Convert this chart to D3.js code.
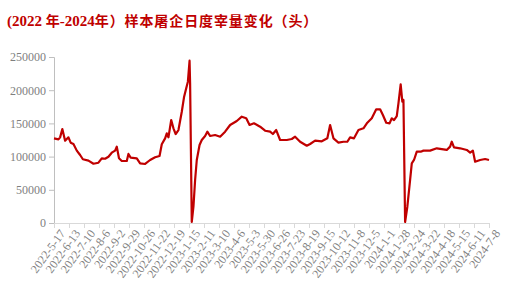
<!DOCTYPE html>
<html>
<head>
<meta charset="utf-8">
<script src="https://cdn.jsdelivr.net/npm/d3@7"></script>
<style>
  body { margin: 0; background: #fff; }
  svg { display: block; }
</style>
</head>
<body>
<div id="chart"></div>
<script>
// Data: days since 2022-5-17 and daily slaughter volume (head)
var days = [0, 8, 11, 15, 20, 26, 30, 35, 41, 47, 52, 62, 71, 80, 86, 92, 98, 104, 110, 113,
  117, 122, 131, 134, 138, 149, 155, 164, 173, 182, 190, 194, 200, 203, 206, 211, 215, 219, 224,
  230, 234, 238, 241, 244, 245, 248, 251, 254, 257, 262, 266, 272, 276, 281, 290, 299, 308, 317,
  329, 338, 346, 352, 360, 371, 380, 389, 394, 400, 407, 419, 428, 434, 443, 455, 461, 470, 482,
  492, 497, 503, 512, 521, 528, 533, 540, 548, 557, 564, 572, 580, 587, 592, 598, 604, 608, 612,
  617, 620, 624, 627, 629, 632, 636, 641, 644, 648, 653, 660, 665, 677, 689, 707, 713, 716, 720,
  731, 743, 749, 754, 758, 767, 776, 783];

var volume = [127500, 126000, 129000, 141500, 124000, 129000, 121000, 119000, 109000, 102400,
  96000, 94000, 89300, 90800, 97400, 96800, 99800, 105900, 109000, 115000,
  97400, 93400, 93400, 104000, 98400, 97400, 89900, 88900, 94900, 99000, 101000, 118500, 127500,
  135000, 129000, 155100, 142600, 134000, 140000,
  167600, 189300, 202900, 212800, 244400, 210400, 1500, 24500, 64800, 94900, 117500, 125000,
  131000, 137500, 131000, 132500, 130000, 137500, 147600,
  153600, 160100, 157700, 147600, 150100, 145000, 139000, 137500, 134000, 140000, 125000, 125000,
  126500, 130000, 122400, 116400, 119000, 124000, 123000,
  127500, 147600, 127500, 121000, 122400, 122400, 129000, 127500, 140000, 142600, 151000, 157700,
  171200, 171200, 162600, 151000, 150100, 157700, 155100,
  161100, 180300, 208900, 182700, 185200, 1500, 24500, 64800, 89900, 94900, 107400, 107400,
  109000, 109000, 112500, 110000, 115000, 122400, 114000,
  112500, 110000, 105900, 109000, 92300, 94900, 96400, 94900];

var tickLabels = ["2022-5-17", "2022-6-13", "2022-7-10", "2022-8-6", "2022-9-2", "2022-9-29",
  "2022-10-26", "2022-11-22", "2022-12-19", "2023-1-15", "2023-2-11", "2023-3-10", "2023-4-6",
  "2023-5-3", "2023-5-30", "2023-6-26", "2023-7-23", "2023-8-19", "2023-9-15", "2023-10-12",
  "2023-11-8", "2023-12-5", "2024-1-1", "2024-1-28", "2024-2-24", "2024-3-22", "2024-4-18",
  "2024-5-15", "2024-6-11", "2024-7-8"];
var tickStep = 27;
var yTicks = [0, 50000, 100000, 150000, 200000, 250000];

// Canvas
var svgWidth = 522;
var svgHeight = 295;
var margin = { top: 57, right: 33, bottom: 72, left: 54 };
var width = svgWidth - margin.left - margin.right;
var height = svgHeight - margin.top - margin.bottom;

var svg = d3.select("#chart")
  .append("svg")
  .attr("width", svgWidth)
  .attr("height", svgHeight);

// Title
var title = svg.append("text")
  .attr("x", 7)
  .attr("y", 26)
  .attr("fill", "#C00000")
  .attr("font-weight", "bold");
title.append("tspan").attr("font-family", "Liberation Serif").attr("font-size", 15).text("(2022 ");
title.append("tspan").attr("font-family", "Noto Sans CJK SC").attr("font-size", 14).text("年");
title.append("tspan").attr("font-family", "Liberation Serif").attr("font-size", 15).text("-2024");
title.append("tspan").attr("font-family", "Noto Sans CJK SC").attr("font-size", 14)
  .attr("letter-spacing", 0.9).text("年）样本屠企日度宰量变化（头）");

var chartGroup = svg.append("g")
  .attr("transform", `translate(${margin.left}, ${margin.top})`);

// Scales
var xScale = d3.scaleLinear().domain([0, (tickLabels.length - 1) * tickStep]).range([0, width]);
var yScale = d3.scaleLinear().domain([0, 250000]).range([height, 0]);

// Y axis
var leftAxis = d3.axisLeft(yScale).tickValues(yTicks).tickSize(5).tickPadding(3)
  .tickFormat(d3.format("d"));
var yAxisG = chartGroup.append("g").call(leftAxis);
yAxisG.select(".domain").attr("stroke", "#BFBFBF");
yAxisG.selectAll(".tick line").attr("stroke", "#BFBFBF");
yAxisG.selectAll(".tick text")
  .attr("fill", "#7F7F7F")
  .attr("font-family", "Liberation Serif")
  .attr("font-size", 12);

// X axis
var bottomAxis = d3.axisBottom(xScale)
  .tickValues(tickLabels.map((d, i) => i * tickStep))
  .tickSize(5)
  .tickFormat((d, i) => tickLabels[i]);
var xAxisG = chartGroup.append("g")
  .attr("transform", `translate(0, ${height})`)
  .call(bottomAxis);
xAxisG.select(".domain").attr("stroke", "#D9D9D9");
xAxisG.selectAll(".tick line").attr("stroke", "#D9D9D9");
xAxisG.selectAll(".tick text")
  .attr("fill", "#7F7F7F")
  .attr("font-family", "Liberation Serif")
  .attr("font-size", 12)
  .attr("text-anchor", "end")
  .attr("transform", "translate(8, 8) rotate(-54)")
  .attr("x", 0)
  .attr("y", 0)
  .attr("dy", "0.35em");

// Line
var line = d3.line()
  .x((d, i) => xScale(days[i]))
  .y(d => yScale(d));

chartGroup.append("path")
  .datum(volume)
  .attr("fill", "none")
  .attr("stroke", "#C00000")
  .attr("stroke-width", 2.2)
  .attr("stroke-linejoin", "round")
  .attr("d", line);
</script>
</body>
</html>
